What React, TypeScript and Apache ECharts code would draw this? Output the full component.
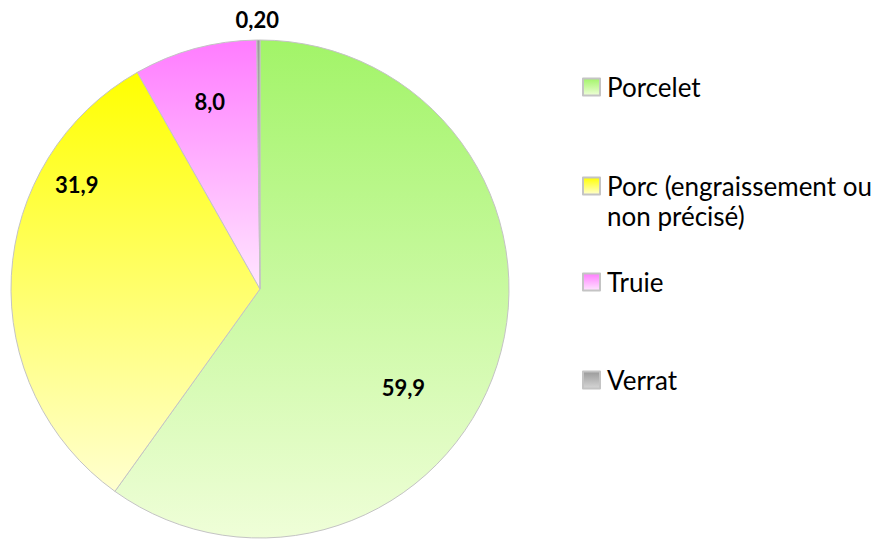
import React, { useEffect, useRef } from "react";
import * as echarts from "echarts";

const categories = ["Porcelet", "Porc (engraissement ou non précisé)", "Truie", "Verrat"];
const values = [59.9, 31.9, 8.0, 0.2];
const valueLabels = ["59,9", "31,9", "8,0", "0,20"];
const legendTexts = ["Porcelet", "\nPorc (engraissement ou\nnon précisé)", "Truie", "Verrat"];

const topColors = ["#a2f468", "#ffff00", "#ff7cff", "#9a9a9a"];
const bottomColors = ["#effed8", "#ffffd0", "#ffe6ff", "#d6d6d6"];
const labelShift = [
  [22, 59],
  [-56, -98],
  [-17, -64],
  [-2, -142],
];
const legendTops = [72, 141, 267, 365];

export default function App() {
  const ref = useRef<HTMLDivElement>(null);
  useEffect(() => {
    if (!ref.current) return;
    const chart = echarts.init(ref.current, undefined, { renderer: "svg" });
    const grad = (i: number) =>
      new echarts.graphic.LinearGradient(0, 0, 0, 1, [
        { offset: 0, color: topColors[i] },
        { offset: 1, color: bottomColors[i] },
      ]);
    chart.setOption({
      animation: false,
      backgroundColor: "#ffffff",
      legend: categories.map((c, i) => ({
        data: [c],
        left: 582,
        top: legendTops[i],
        padding: 0,
        orient: "vertical",
        itemWidth: 17,
        itemHeight: 17,
        itemGap: 0,
        icon: "rect",
        selectedMode: false,
        formatter: (name: string) => legendTexts[categories.indexOf(name)],
        textStyle: {
          fontFamily: "Lato",
          fontSize: 26,
          lineHeight: 30,
          color: "#000000",
          padding: [0, 0, 0, 2],
        },
      })),
      series: [
        {
          type: "pie",
          center: [260, 289],
          radius: 249,
          startAngle: 90,
          clockwise: true,
          avoidLabelOverlap: false,
          silent: true,
          data: categories.map((c, i) => ({
            name: c,
            value: values[i],
            itemStyle: { color: grad(i) },
          })),
          itemStyle: { borderColor: "#c4c4c4", borderWidth: 1 },
          label: {
            show: true,
            position: "inside",
            formatter: (p: any) => valueLabels[p.dataIndex],
            fontFamily: "Lato",
            fontWeight: "bold",
            fontSize: 22,
            color: "#000000",
          },
          labelLine: { show: false },
          labelLayout: (p: any) => ({
            dx: labelShift[p.dataIndex][0],
            dy: labelShift[p.dataIndex][1],
          }),
        },
      ],
    });
    return () => chart.dispose();
  }, []);
  return (
    <div
      ref={ref}
      style={{ position: "fixed", left: 0, top: 0, width: 881, height: 540 }}
    />
  );
}
